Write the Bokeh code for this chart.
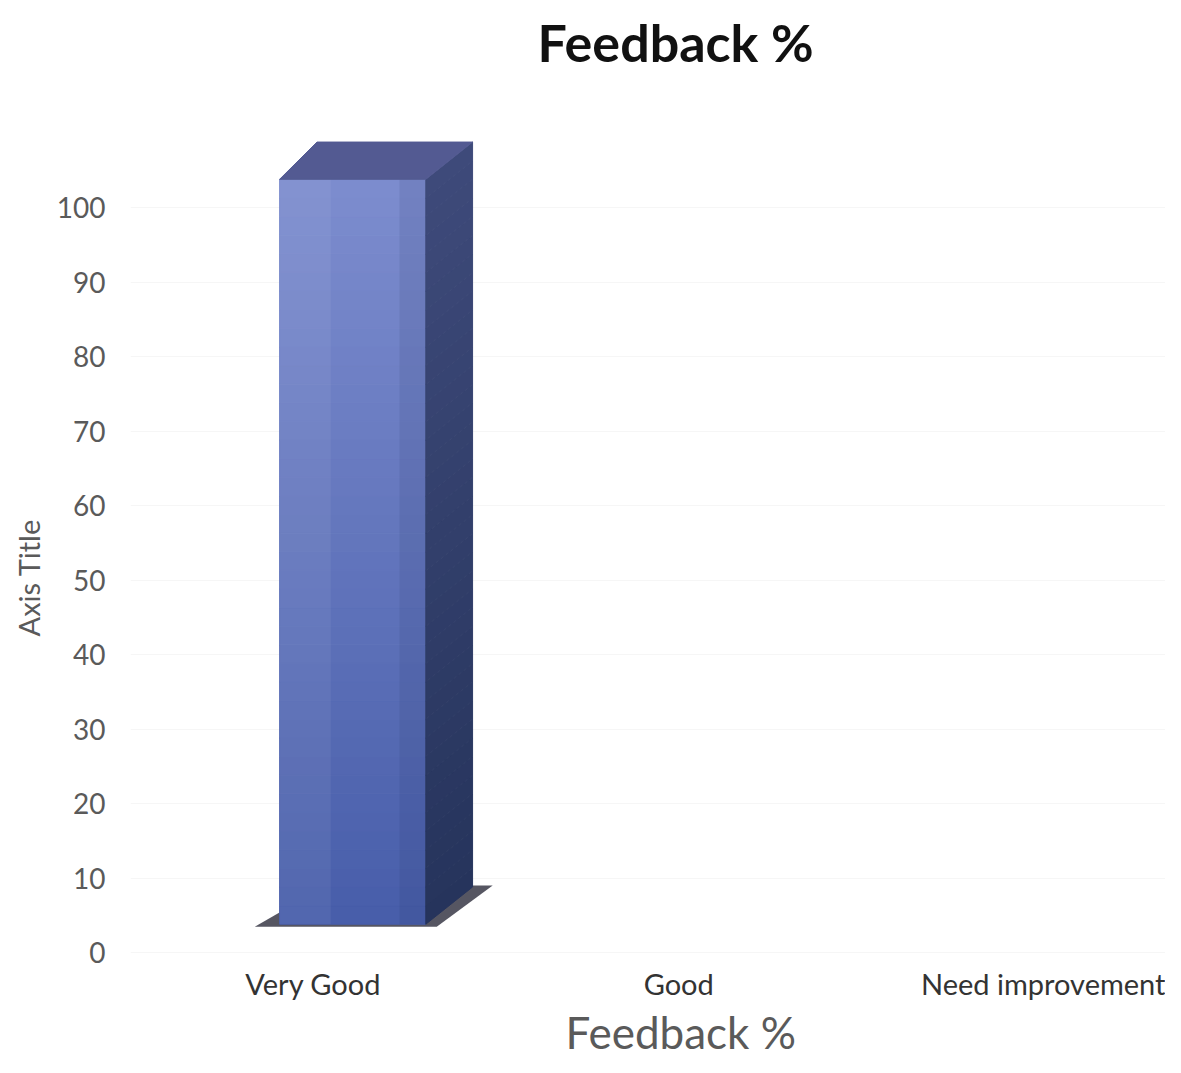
import numpy as np
from bokeh.plotting import figure
from bokeh.models import Range1d, FixedTicker, Title
from bokeh.embed import file_html
from bokeh.resources import INLINE

# ---- data ----
categories = ["Very Good", "Good", "Need improvement"]
values = [100, 0, 0]
y_ticks = [0, 10, 20, 30, 40, 50, 60, 70, 80, 90, 100]
title_text = "Feedback %"
x_title = "Feedback %"
y_title = "Axis Title"

# ---- style constants (3-D look) ----
BAR_W = 0.40
BAR_SHIFT = 0.108
BASE = 3.8
DX = 0.128
DY = 5.0
N_STRIPS = 40
FONT = "Lato"

p = figure(width=1165, height=1057, output_backend="svg", toolbar_location=None,
           x_range=Range1d(0, 2.832), y_range=Range1d(-0.4, 117.6),
           min_border_left=130, min_border_right=0, min_border_top=76, min_border_bottom=102)
p.outline_line_color = None
p.background_fill_color = "white"
p.border_fill_color = "white"

p.add_layout(Title(text=title_text, align="left", offset=407, text_font=FONT,
                   text_font_size="52px", text_font_style="bold", text_color="#111111",
                   standoff=4, vertical_align="top"), "above")

centers = [i + 0.5 for i in range(len(categories))]

def lerp(c0, c1, t):
    return "#%02x%02x%02x" % tuple(int(round(a + (b - a) * t)) for a, b in zip(c0, c1))

# shadows first
for c, v in zip(centers, values):
    if v <= 0:
        continue
    L = c + BAR_SHIFT - BAR_W / 2
    R = c + BAR_SHIFT + BAR_W / 2
    p.patch([L - 0.068, R + 0.03, R + DX + 0.055, L + DX],
            [BASE - 0.35, BASE - 0.35, BASE + DY + 0.2, BASE + DY + 0.2],
            fill_color="#1e1e2e", fill_alpha=0.75, line_color=None)

for c, v in zip(centers, values):
    if v <= 0:
        continue
    L = c + BAR_SHIFT - BAR_W / 2
    R = c + BAR_SHIFT + BAR_W / 2
    top = BASE + v
    edges = np.linspace(BASE, top, N_STRIPS + 1)
    # front face strips (dark bottom -> light top)
    fl, fr, fb, ft, fc = [], [], [], [], []
    for k in range(N_STRIPS):
        t = k / (N_STRIPS - 1)
        fl.append(L); fr.append(R); fb.append(edges[k]); ft.append(edges[k + 1])
        fc.append(lerp((72, 94, 170), (124, 140, 206), t))
    p.quad(left=fl, right=fr, bottom=fb, top=ft, fill_color=fc, line_color=fc, line_width=1)
    # lighter left part, darker right part of the front face
    p.quad(left=[L], right=[L + (R - L) * 0.35], bottom=[BASE], top=[top],
           fill_color="white", fill_alpha=0.06, line_color=None)
    p.quad(left=[L + (R - L) * 0.82], right=[R], bottom=[BASE], top=[top],
           fill_color="#1a2350", fill_alpha=0.10, line_color=None)
    # side face strips
    xs, ys, sc = [], [], []
    for k in range(N_STRIPS):
        t = k / (N_STRIPS - 1)
        h0, h1 = edges[k], edges[k + 1]
        xs.append([R, R + DX, R + DX, R])
        ys.append([h0, h0 + DY, h1 + DY, h1])
        sc.append(lerp((38, 52, 92), (62, 74, 122), t))
    p.patches(xs, ys, fill_color=sc, line_color=sc, line_width=1)
    # top face
    p.patch([L, L + DX * 0.8, R + DX, R], [top, top + DY, top + DY, top],
            fill_color="#535a92", line_color="#535a92", line_width=1)

# axes
p.xaxis.ticker = FixedTicker(ticks=centers)
p.xaxis.major_label_overrides = {c: n for c, n in zip(centers, categories)}
p.yaxis.ticker = FixedTicker(ticks=y_ticks)
for ax in (p.xaxis[0], p.yaxis[0]):
    ax.axis_line_color = None
    ax.major_tick_line_color = None
    ax.minor_tick_line_color = None
    ax.major_tick_out = 0
    ax.major_tick_in = 0
    ax.major_label_text_font = FONT

p.xaxis.major_label_text_font_size = "29px"
p.xaxis.major_label_text_color = "#333333"
p.xaxis.major_label_standoff = 10

p.yaxis.major_label_text_font_size = "28px"
p.yaxis.major_label_text_color = "#5a5a5a"
p.yaxis.major_label_standoff = 25

p.add_layout(Title(text=x_title, align="left", offset=435, text_font=FONT,
                   text_font_size="44px", text_font_style="normal", text_color="#5a5a5a",
                   standoff=0), "below")
p.add_layout(Title(text=y_title, align="left", offset=319, text_font=FONT,
                   text_font_size="29px", text_font_style="normal", text_color="#5a5a5a",
                   standoff=16), "left")

p.xgrid.grid_line_color = None
p.ygrid.grid_line_color = "#e6e6e6"
p.ygrid.grid_line_alpha = 0.35

open("out.html", "w").write(file_html(p, INLINE))
